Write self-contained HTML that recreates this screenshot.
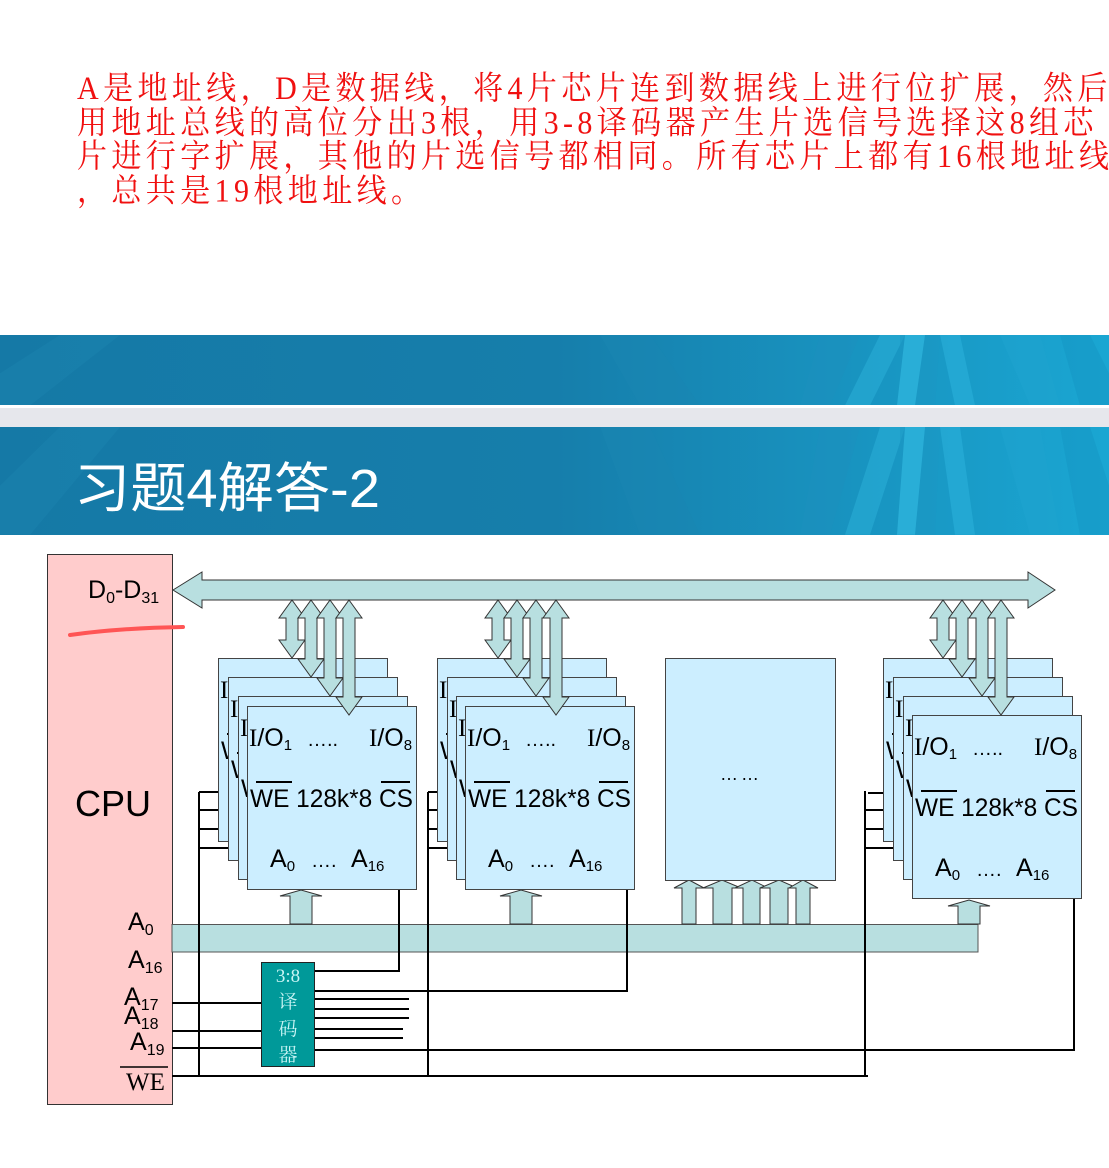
<!DOCTYPE html>
<html><head><meta charset="utf-8">
<style>
html,body{margin:0;padding:0;background:#fff;}
body{width:1109px;height:1168px;position:relative;overflow:hidden;}
.txt{position:absolute;left:77px;top:72px;width:1100px;color:#f01010;font-family:"Liberation Serif","Noto Serif CJK SC",serif;font-size:30px;line-height:31.5px;white-space:nowrap;letter-spacing:4.4px;transform:scaleY(1.08);transform-origin:0 0;}
</style></head><body>
<div class="txt">A是地址线，D是数据线，将4片芯片连到数据线上进行位扩展，然后<br>用地址总线的高位分出3根，用3-8译码器产生片选信号选择这8组芯<br>片进行字扩展，其他的片选信号都相同。所有芯片上都有16根地址线<br>，总共是19根地址线。</div>
<svg width="1109" height="1168" style="position:absolute;left:0;top:0" xmlns="http://www.w3.org/2000/svg">
<defs>
<linearGradient id="bg" x1="0" x2="1" y1="0" y2="0">
<stop offset="0" stop-color="#1579a6"/><stop offset="0.5" stop-color="#167eab"/><stop offset="1" stop-color="#1aa6d2"/>
</linearGradient>
<g id="streaks">
<polygon points="880,0 905,0 870,110 845,110" fill="#2aaed6" opacity="0.6"/>
<polygon points="820,0 860,0 830,110 800,110" fill="#1c90bd" opacity="0.5"/>
<polygon points="900,0 940,0 935,110 900,110" fill="#1c97c4" opacity="0.5"/>
<polygon points="905,0 925,0 915,110 897,110" fill="#30b8e0" opacity="0.7"/>
<polygon points="940,0 960,0 975,110 955,110" fill="#2ab0da" opacity="0.6"/>
<polygon points="1000,0 1040,0 1060,110 1030,110" fill="#1ea4cf" opacity="0.6"/>
<polygon points="1060,0 1090,0 1109,60 1109,110 1080,110" fill="#1395c3" opacity="0.5"/>
<polygon points="600,0 650,0 700,110 640,110" fill="#1a86b2" opacity="0.5"/>
<polygon points="0,60 60,0 120,0 30,110 0,110" fill="#1d86b2" opacity="0.4"/>
</g>
</defs>
<rect x="0" y="335" width="1109" height="70" fill="url(#bg)"/>
<g transform="translate(0,335) scale(1,0.64)"><use href="#streaks"/></g>
<rect x="0" y="405" width="1109" height="3" fill="#fff"/>
<rect x="0" y="408" width="1109" height="19" fill="#e6e7ec"/>
<rect x="0" y="427" width="1109" height="108" fill="url(#bg)"/>
<g transform="translate(0,427) scale(1,0.98)"><use href="#streaks"/></g>
<text x="74" y="507" fill="#fff" font-family="Liberation Sans, Noto Sans CJK SC, sans-serif" font-size="54" textLength="306" lengthAdjust="spacingAndGlyphs">习题4解答-2</text>

<rect x="47.5" y="554.5" width="125" height="550" fill="#ffcccc" stroke="#333" stroke-width="1"/>
<g font-family="Liberation Sans, DejaVu Sans, sans-serif" fill="#000">
<text x="88" y="598" font-size="25">D<tspan font-size="16" dy="5">0</tspan><tspan dy="-5">-D</tspan><tspan font-size="16" dy="5">31</tspan></text>
<text x="75" y="816" font-size="36">CPU</text>
<text x="128" y="930" font-size="25">A<tspan font-size="16" dy="5">0</tspan></text>
<text x="128" y="968" font-size="25">A<tspan font-size="16" dy="5">16</tspan></text>
<text x="124" y="1005" font-size="25">A<tspan font-size="16" dy="5">17</tspan></text>
<text x="124" y="1024" font-size="25">A<tspan font-size="16" dy="5">18</tspan></text>
<text x="130" y="1050" font-size="25">A<tspan font-size="16" dy="5">19</tspan></text>
</g>
<line x1="120" y1="1067" x2="168" y2="1067" stroke="#000" stroke-width="1.5"/>
<text x="126" y="1090" font-family="Liberation Serif, serif" font-size="25">WE</text>
<path d="M70,635 Q120,628 183,627" stroke="#ff5555" stroke-width="4" fill="none" stroke-linecap="round"/>

<path d="M173,590 L202,572 L202,580 L1028,580 L1028,572 L1055,590 L1028,608 L1028,600 L202,600 L202,608 Z" fill="#b8dfe0" stroke="#333" stroke-width="1"/>

<rect x="172" y="924.5" width="806" height="27.5" fill="#b8dfe0" stroke="#555" stroke-width="1"/>

<g stroke="#000" stroke-width="2" fill="none">
<line x1="199" y1="792" x2="199" y2="1077"/>
<line x1="199" y1="792" x2="218" y2="792"/><line x1="199" y1="810" x2="228" y2="810"/><line x1="199" y1="829" x2="238" y2="829"/><line x1="199" y1="848" x2="247" y2="848"/>
<line x1="428" y1="792" x2="428" y2="1077"/>
<line x1="428" y1="792" x2="437" y2="792"/><line x1="428" y1="810" x2="447" y2="810"/><line x1="428" y1="829" x2="456" y2="829"/><line x1="428" y1="848" x2="465" y2="848"/>
<line x1="865" y1="791" x2="865" y2="1077"/>
<line x1="868" y1="793" x2="885" y2="793"/><line x1="865" y1="810" x2="894" y2="810"/><line x1="865" y1="829" x2="903" y2="829"/><line x1="865" y1="848" x2="912" y2="848"/>
<line x1="172" y1="1076" x2="868" y2="1076"/>
<polyline points="315,971 399,971 399,886"/>
<polyline points="315,991 627,991 627,889"/>
<line x1="315" y1="999" x2="409" y2="999"/><line x1="315" y1="1009" x2="409" y2="1009"/><line x1="315" y1="1018" x2="409" y2="1018"/>
<line x1="315" y1="1029" x2="403" y2="1029"/><line x1="315" y1="1038" x2="403" y2="1038"/>
<polyline points="315,1050 1074,1050 1074,899"/>
<line x1="172" y1="1003" x2="261" y2="1003"/>
<line x1="172" y1="1031" x2="261" y2="1031"/>
<line x1="172" y1="1048" x2="261" y2="1048"/>
</g>
<rect x="261.5" y="962.5" width="53" height="104" fill="#009999" stroke="#222" stroke-width="1"/>
<g fill="#c8f4f4" font-family="Liberation Serif, Noto Serif CJK SC, serif" font-size="19" text-anchor="middle">
<text x="288" y="982">3:8</text><text x="288" y="1008">译</text><text x="288" y="1035">码</text><text x="288" y="1061">器</text>
</g>

<g fill="#b8dfe0" stroke="#333" stroke-width="1">
<path d="M290,924 L290,896 L280,896 L301,890 L322,896 L312,896 L312,924 Z"/>
<path d="M510,924 L510,896 L500,896 L521,890 L542,896 L532,896 L532,924 Z"/>
<path d="M958,924 L958,906 L948,906 L969,900 L990,906 L980,906 L980,924 Z"/>
<path d="M682,924 L682,888 L674,888 L689,880 L704,888 L696,888 L696,924 Z"/>
<path d="M713,924 L713,888 L703,888 L722,880 L741,888 L732,888 L732,924 Z"/>
<path d="M743,924 L743,888 L735,888 L752,880 L768,888 L760,888 L760,924 Z"/>
<path d="M770,924 L770,888 L760,888 L779,880 L797,888 L788,888 L788,924 Z"/>
<path d="M796,924 L796,888 L789,888 L803,880 L818,888 L810,888 L810,924 Z"/>
</g>

<rect x="665.5" y="658.5" width="170" height="222" fill="#cceeff" stroke="#444" stroke-width="1"/>
<text x="720" y="780" font-family="Liberation Sans, sans-serif" font-size="18" letter-spacing="3">……</text>

<defs>
<g id="chip">
<rect x="0.5" y="0.5" width="169" height="183" fill="#cceeff" stroke="#444" stroke-width="1"/>
<g font-family="Liberation Sans, DejaVu Sans, sans-serif" font-size="25" fill="#000">
<text x="2" y="40"><tspan font-family="Liberation Serif, serif">I</tspan>/O<tspan font-size="15" dy="4">1</tspan></text>
<text x="60" y="40" font-size="20">…..</text>
<text x="122" y="40"><tspan font-family="Liberation Serif, serif">I</tspan>/O<tspan font-size="15" dy="4">8</tspan></text>
<text x="3" y="101" textLength="163" lengthAdjust="spacingAndGlyphs">WE 128k*8 CS</text>
<text x="23" y="161">A<tspan font-size="15" dy="4">0</tspan></text>
<text x="64" y="161" font-size="20">….</text>
<text x="104" y="161">A<tspan font-size="15" dy="4">16</tspan></text>
</g>
<line x1="9" y1="76" x2="45" y2="76" stroke="#000" stroke-width="2"/>
<line x1="134" y1="76" x2="163" y2="76" stroke="#000" stroke-width="2"/>
</g>
</defs>

<use href="#chip" x="218" y="658"/><use href="#chip" x="228" y="677"/><use href="#chip" x="238" y="696"/><use href="#chip" x="247" y="706"/>
<use href="#chip" x="437" y="658"/><use href="#chip" x="447" y="677"/><use href="#chip" x="456" y="696"/><use href="#chip" x="465" y="706"/>
<use href="#chip" x="883" y="658"/><use href="#chip" x="893" y="677"/><use href="#chip" x="903" y="696"/><use href="#chip" x="912" y="715"/>

<g fill="#b8dfe0" stroke="#333" stroke-width="1">
<path d="M292,600 L305,618 L298,618 L298,640 L305,640 L292,658 L279,640 L286,640 L286,618 L279,618 Z"/>
<path d="M311,600 L324,618 L317,618 L317,659 L324,659 L311,677 L298,659 L305,659 L305,618 L298,618 Z"/>
<path d="M330,600 L343,618 L336,618 L336,678 L343,678 L330,696 L317,678 L324,678 L324,618 L317,618 Z"/>
<path d="M349,600 L362,618 L355,618 L355,697 L362,697 L349,715 L336,697 L343,697 L343,618 L336,618 Z"/>

<path d="M498,600 L511,618 L504,618 L504,640 L511,640 L498,658 L485,640 L492,640 L492,618 L485,618 Z"/>
<path d="M517,600 L530,618 L523,618 L523,659 L530,659 L517,677 L504,659 L511,659 L511,618 L504,618 Z"/>
<path d="M536,600 L549,618 L542,618 L542,678 L549,678 L536,696 L523,678 L530,678 L530,618 L523,618 Z"/>
<path d="M556,600 L569,618 L562,618 L562,697 L569,697 L556,715 L543,697 L550,697 L550,618 L543,618 Z"/>

<path d="M943,600 L956,618 L949,618 L949,640 L956,640 L943,658 L930,640 L937,640 L937,618 L930,618 Z"/>
<path d="M962,600 L975,618 L968,618 L968,659 L975,659 L962,677 L949,659 L956,659 L956,618 L949,618 Z"/>
<path d="M982,600 L995,618 L988,618 L988,678 L995,678 L982,696 L969,678 L976,678 L976,618 L969,618 Z"/>
<path d="M1001,600 L1014,618 L1007,618 L1007,697 L1014,697 L1001,715 L988,697 L995,697 L995,618 L988,618 Z"/>
</g>
</svg>
</body></html>
